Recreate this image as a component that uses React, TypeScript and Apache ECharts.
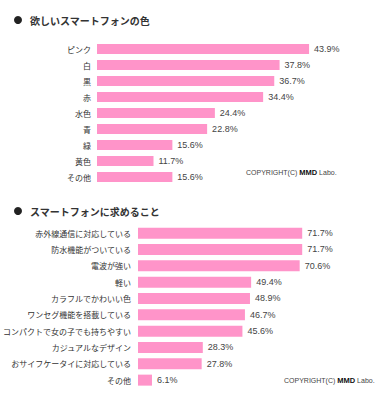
import React, { useEffect, useRef } from "react";
import * as echarts from "echarts";

const colorCategories = ["ピンク", "白", "黒", "赤", "水色", "青", "緑", "黄色", "その他"];
const colorValues = [43.9, 37.8, 36.7, 34.4, 24.4, 22.8, 15.6, 11.7, 15.6];

const needCategories = [
  "赤外線通信に対応している",
  "防水機能がついている",
  "電波が強い",
  "軽い",
  "カラフルでかわいい色",
  "ワンセグ機能を搭載している",
  "コンパクトで女の子でも持ちやすい",
  "カジュアルなデザイン",
  "おサイフケータイに対応している",
  "その他",
];
const needValues = [71.7, 71.7, 70.6, 49.4, 48.9, 46.7, 45.6, 28.3, 27.8, 6.1];

const title1 = "欲しいスマートフォンの色";
const title2 = "スマートフォンに求めること";

const BAR_COLOR = "#ff94c9";
const FONT = "'Noto Sans CJK JP', 'Liberation Sans', sans-serif";

export default function App() {
  const ref = useRef<HTMLDivElement>(null);
  useEffect(() => {
    if (!ref.current) return;
    const chart = echarts.init(ref.current, undefined, { renderer: "svg" });
    const labelCommon = {
      show: true,
      position: "right",
      distance: 5,
      fontSize: 9,
      color: "#444",
      fontFamily: "'Liberation Sans', sans-serif",
      formatter: "{c}%",
    };
    const copyright = (x: number, y: number) => ({
      type: "text",
      left: x,
      top: y,
      style: {
        text: "COPYRIGHT(C) {b|MMD} Labo.",
        fontSize: 7,
        fill: "#444",
        fontFamily: "'Liberation Sans', sans-serif",
        rich: {
          b: { fontSize: 7.5, fontWeight: "bold", fill: "#111", fontFamily: "'Liberation Sans', sans-serif" },
        },
      },
    });
    const title = (y: number, text: string) => ({
      type: "group",
      children: [
        { type: "circle", shape: { cx: 18, cy: y, r: 4 }, style: { fill: "#222" } },
        {
          type: "text",
          x: 30,
          y: y,
          style: {
            text,
            fontSize: 10,
            fontWeight: "bold",
            fill: "#333",
            fontFamily: FONT,
            textVerticalAlign: "middle",
            verticalAlign: "middle",
          },
        },
      ],
    });
    chart.setOption({
      animation: false,
      backgroundColor: "#fff",
      grid: [
        { left: 97, top: 41, width: 241.5, height: 144 },
        { left: 133, top: 225, width: 234, height: 163.3 },
      ],
      xAxis: [
        { type: "value", gridIndex: 0, min: 0, max: 50, show: false },
        { type: "value", gridIndex: 1, min: 0, max: 100, show: false },
      ],
      yAxis: [
        {
          type: "category",
          gridIndex: 0,
          data: colorCategories,
          inverse: true,
          axisLine: { show: false },
          axisTick: { show: false },
          axisLabel: { fontSize: 8, color: "#333", margin: 6, fontFamily: FONT },
        },
        {
          type: "category",
          gridIndex: 1,
          data: needCategories,
          inverse: true,
          axisLine: { show: false },
          axisTick: { show: false },
          axisLabel: { fontSize: 8, color: "#333", margin: 7, fontFamily: FONT },
        },
      ],
      series: [
        {
          type: "bar",
          xAxisIndex: 0,
          yAxisIndex: 0,
          data: colorValues,
          barWidth: 10,
          itemStyle: { color: BAR_COLOR },
          label: labelCommon,
        },
        {
          type: "bar",
          xAxisIndex: 1,
          yAxisIndex: 1,
          data: needValues,
          barWidth: 11,
          itemStyle: { color: BAR_COLOR },
          label: labelCommon,
        },
      ],
      graphic: [
        title(20, title1),
        title(211, title2),
        copyright(246, 168),
        copyright(284, 376),
      ],
    });
    return () => chart.dispose();
  }, []);
  return <div ref={ref} style={{ width: 385, height: 400, position: "absolute", left: 0, top: 0 }} />;
}
